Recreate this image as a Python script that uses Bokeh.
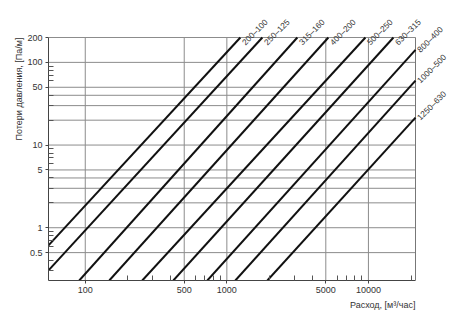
import math
from bokeh.plotting import figure
from bokeh.models import Range1d, FixedTicker, Title, LabelSet, ColumnDataSource
from bokeh.core.properties import value
from bokeh.embed import file_html
from bokeh.resources import INLINE

# ---- data ----
duct_labels = ["200–100", "250–125", "315–160", "400–200", "500–250",
               "630–315", "800–400", "1000–500", "1250–630"]
q_start = [55, 55, 90.7, 147.8, 252.7, 418.8, 728, 1148, 1933]
dp_start = [0.611, 0.305, 0.23, 0.23, 0.23, 0.23, 0.23, 0.23, 0.23]
q_end = [1246, 1782, 3148, 5215, 9523, 15020, 21500, 21500, 21500]
dp_end = [200, 200, 200, 200, 200, 200, 142, 60.1, 21.5]

x_major = [100, 500, 1000, 5000, 10000]
x_major_labels = ["100", "500", "1000", "5000", "10000"]
x_minor = [200, 300, 400, 600, 700, 800, 900, 2000, 3000, 4000,
           6000, 7000, 8000, 9000, 20000]
y_major = [0.5, 1, 5, 10, 50, 100, 200]
y_major_labels = ["0.5", "1", "5", "10", "50", "100", "200"]
y_minor = [0.3, 0.4, 0.6, 0.7, 0.8, 0.9, 2, 3, 4, 6, 7, 8, 9,
           20, 30, 40, 60, 70, 80, 90]
y_grid = [0.5, 1, 2, 3, 4, 5, 10, 20, 30, 40, 50, 100, 200]
x_grid = [100, 500, 1000, 5000, 10000]

# visible chart box (data units)
x_lo, x_hi = 55, 21500
y_lo, y_hi = 0.23, 200

# layout (pixels): chart box 48..415 x 37..280; frame extended for labels
BOX_L, BOX_R, BOX_T, BOX_B = 48, 415, 37, 280
W, H = 450, 316
FR_R, FR_T = W, 0
px_dec_x = (BOX_R - BOX_L) / math.log10(x_hi / x_lo)
px_dec_y = (BOX_B - BOX_T) / math.log10(y_hi / y_lo)
x_max = x_lo * 10 ** ((FR_R - BOX_L) / px_dec_x)
y_max = y_lo * 10 ** ((BOX_B - FR_T) / px_dec_y)

FONT = "Liberation Sans"
TXT = "#333333"
GRID = "#8c8c8c"

p = figure(width=W, height=H, x_axis_type="log", y_axis_type="log",
           x_range=Range1d(x_lo, x_max), y_range=Range1d(y_lo, y_max),
           output_backend="svg", toolbar_location=None,
           min_border_left=BOX_L, min_border_right=W - FR_R,
           min_border_top=FR_T, min_border_bottom=H - BOX_B)
p.background_fill_color = "white"
p.border_fill_color = "white"
p.outline_line_color = None
p.xgrid.visible = False
p.ygrid.visible = False

# grid lines limited to the chart box
p.segment(x0=x_grid, x1=x_grid, y0=[y_lo] * len(x_grid), y1=[y_hi] * len(x_grid),
          line_color=GRID, line_width=1)
p.segment(x0=[x_lo] * len(y_grid), x1=[x_hi] * len(y_grid), y0=y_grid, y1=y_grid,
          line_color=GRID, line_width=1)
# right border of the box
p.segment(x0=[x_hi], x1=[x_hi], y0=[y_lo], y1=[y_hi], line_color="#777777",
          line_width=1)

# axes
p.xaxis.ticker = FixedTicker(ticks=x_major, minor_ticks=x_minor)
p.yaxis.ticker = FixedTicker(ticks=y_major, minor_ticks=y_minor)
p.xaxis.major_label_overrides = {v: s for v, s in zip(x_major, x_major_labels)}
p.yaxis.major_label_overrides = {v: s for v, s in zip(y_major, y_major_labels)}
p.xaxis.bounds = (x_lo, x_hi)
p.yaxis.bounds = (y_lo, y_hi)
for ax in (p.xaxis, p.yaxis):
    ax.axis_line_color = "#444444"
    ax.major_tick_line_color = "#444444"
    ax.minor_tick_line_color = "#555555"
    ax.major_tick_in = 0
    ax.major_tick_out = 3
    ax.minor_tick_in = 5
    ax.minor_tick_out = 0
    ax.major_label_text_font = FONT
    ax.major_label_text_font_size = "9px"
    ax.major_label_text_color = TXT
    ax.major_label_standoff = 3
p.yaxis.major_label_orientation = "horizontal"

# lines
p.multi_line(xs=[[a, b] for a, b in zip(q_start, q_end)],
             ys=[[a, b] for a, b in zip(dp_start, dp_end)],
             line_color="#111111", line_width=2)

# line labels
top_src = ColumnDataSource(dict(x=q_end[:6], y=dp_end[:6], t=duct_labels[:6]))
right_src = ColumnDataSource(dict(x=q_end[6:], y=dp_end[6:], t=duct_labels[6:]))
for src, xo, yo in ((top_src, 3, -6), (right_src, 3, -1)):
    p.add_layout(LabelSet(x="x", y="y", text="t", source=src, angle=math.pi / 4,
                          x_offset=xo, y_offset=yo, text_font=value(FONT),
                          text_font_size=value("8.3px"), text_color=value(TXT),
                          text_align="left", text_baseline="middle"))

# axis titles
yt = Title(text="Потери давления, [Па/м]", align="right", text_font=FONT,
           text_font_size="9px", text_font_style="normal", text_color=TXT,
           standoff=2, offset=BOX_T - FR_T)
p.add_layout(yt, "left")
xt = Title(text="Расход, [м³/час]", align="right", text_font=FONT,
           text_font_size="9px", text_font_style="normal", text_color=TXT,
           standoff=5, offset=FR_R - BOX_R)
p.add_layout(xt, "below")

open("out.html", "w").write(file_html(p, INLINE))
